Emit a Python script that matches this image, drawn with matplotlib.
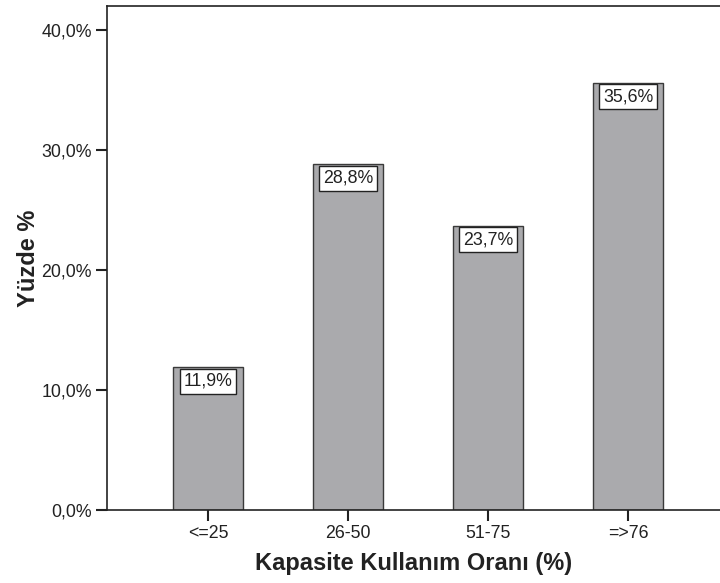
import matplotlib
matplotlib.use('Agg')
import matplotlib.pyplot as plt

plt.rcParams['font.family'] = ['Liberation Sans', 'DejaVu Sans']

# Capacity utilisation groups and their share (%)
categories = ['<=25', '26-50', '51-75', '=>76']
percentages = [11.9, 28.8, 23.7, 35.6]
y_ticks = [0, 10, 20, 30, 40]

ink = '#222222'
bar_fill = '#aaaaad'

fig = plt.figure(figsize=(7.2, 5.83), dpi=100)
ax = fig.add_axes([0.1486, 0.1252, 0.8514, 0.8645])

x = range(len(categories))
ax.bar(x, percentages, width=0.5, color=bar_fill, edgecolor='#3a3a3a', linewidth=1.0)

# Value labels in white boxes hanging from the top of each bar
for xi, v in zip(x, percentages):
    ax.annotate(('%.1f%%' % v).replace('.', ','), xy=(xi, v), xytext=(0, -14),
                textcoords='offset pixels', ha='center', va='center',
                fontsize=12.8, color=ink,
                bbox=dict(boxstyle='square,pad=0.22', fc='white', ec=ink, lw=1.0))

ax.set_xlim(-0.721, 3.657)
ax.set_ylim(0, 42.0)
ax.set_xticks(list(x))
ax.set_xticklabels(categories)
ax.set_yticks(y_ticks)
ax.set_yticklabels([('%.1f%%' % t).replace('.', ',') for t in y_ticks])

ax.tick_params(axis='both', length=8, width=1.5, color=ink, labelsize=12.8,
               labelcolor=ink, pad=3)

for side in ['left', 'bottom', 'top']:
    ax.spines[side].set_color(ink)
    ax.spines[side].set_linewidth(1.2)
ax.spines['right'].set_visible(False)

ax.set_xlabel('Kapasite Kullanım Oranı (%)', fontsize=17, fontweight='bold',
              color=ink, labelpad=7)
ax.set_ylabel('Yüzde %', fontsize=17, fontweight='bold', color=ink, labelpad=1)

fig.savefig('out.png', dpi=100)
